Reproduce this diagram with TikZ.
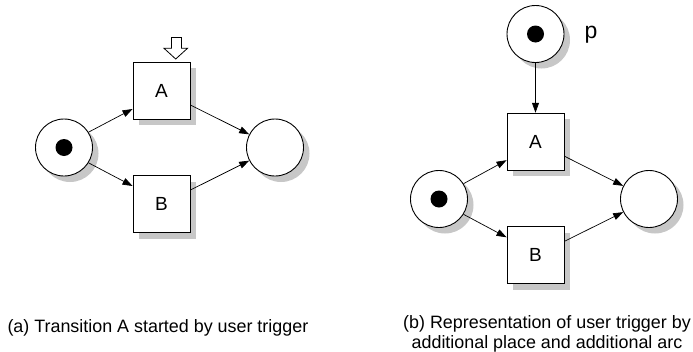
\documentclass[tikz,border=0pt]{standalone}
\usepackage{fontspec}
\setmainfont{Liberation Sans}
\usetikzlibrary{shadows,arrows.meta}
\begin{document}
\begin{tikzpicture}[x=1pt,y=-1pt,
  shd/.style={drop shadow={shadow xshift=6pt,shadow yshift=-6pt,fill=black!22,opacity=1}},
  place/.style={circle,draw,line width=0.9pt,fill=white,minimum size=57pt,inner sep=0pt,shd},
  trans/.style={rectangle,draw,line width=0.9pt,fill=white,minimum size=57pt,inner sep=0pt,shd,
    font=\fontsize{19}{22}\selectfont},
  token/.style={circle,fill=black,minimum size=17pt,inner sep=0pt},
  arc/.style={line width=0.7pt,-{Triangle[length=10pt,width=7pt]}},
  lbl/.style={font=\fontsize{23}{26}\selectfont,inner sep=0pt},
  captxt/.style={inner sep=0pt,font=\fontsize{17.9}{21}\selectfont}
]
\useasboundingbox (0,0) rectangle (693,351);
% ---------- (a) ----------
\node[place] (pa1) at (64,147.5) {};
\node[token] (ta1) at (pa1.center) {};
\node[trans] (A1) at (161.5,90.5) {A};
\node[trans] (B1) at (161.5,204) {B};
\node[place] (pa2) at (275,147.5) {};
\draw[arc] (pa1.32) -- ([yshift=-18.5pt]A1.west);
\draw[arc] (pa1.-32) -- ([yshift=18pt]B1.west);
\draw[arc] ([yshift=-14.5pt]A1.east) -- (pa2.153);
\draw[arc] ([yshift=14pt]B1.east) -- (pa2.207);
% user trigger arrow
\draw[line width=0.8pt,fill=white] (171.5,37.5) -- (181.5,37.5) -- (181.5,48.3) -- (187.5,48.3)
  -- (175.7,59) -- (164,48.3) -- (171.5,48.3) -- cycle;
% ---------- (b) ----------
\node[place] (P) at (535.5,34) {};
\node[token] (tP) at (P.center) {};
\node[lbl,anchor=base] (plabel) at (591,38.3) {p};
\node[trans] (A2) at (535.5,141.7) {A};
\node[trans] (B2) at (535.5,255.3) {B};
\node[place] (pb1) at (439,199) {};
\node[token] (tb1) at (pb1.center) {};
\node[place] (pb2) at (649,199) {};
\draw[arc] (P.south) -- (A2.north);
\draw[arc] (pb1.32) -- ([yshift=-18.5pt]A2.west);
\draw[arc] (pb1.-32) -- ([yshift=18pt]B2.west);
\draw[arc] ([yshift=-14.5pt]A2.east) -- (pb2.153);
\draw[arc] ([yshift=14pt]B2.east) -- (pb2.207);
% ---------- captions ----------
\node[captxt,anchor=base west] (capa) at (7.3,332)
  {(a) Transition A started by user trigger};
\node[captxt,anchor=base] (capb1) at (547,328)
  {(b) Representation of user trigger by};
\node[captxt,anchor=base] (capb2) at (547,348)
  {additional place and additional arc};
\end{tikzpicture}
\end{document}
